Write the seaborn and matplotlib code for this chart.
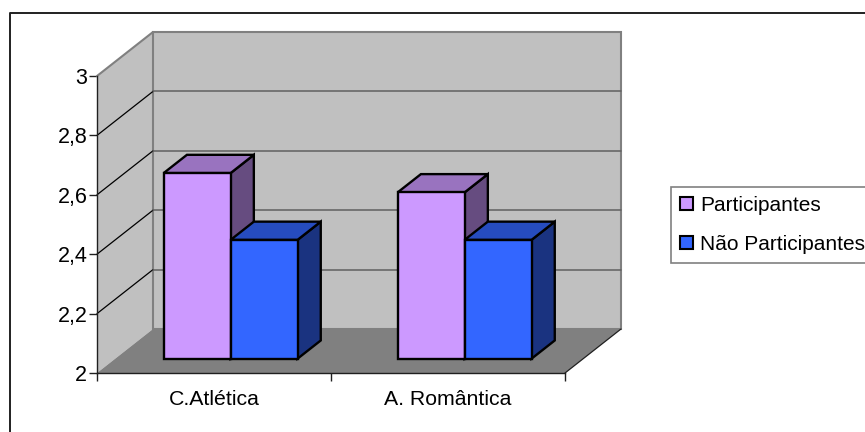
import matplotlib
matplotlib.use("Agg")
import matplotlib.pyplot as plt
from matplotlib.lines import Line2D
from matplotlib.patches import Polygon, Rectangle
from matplotlib.transforms import Affine2D, IdentityTransform
import numpy as np
import pandas as pd
import seaborn as sns

categories = ["C.Atlética", "A. Romântica"]
series_names = ["Participantes", "Não Participantes"]
participantes = [2.625, 2.56]
nao_participantes = [2.40, 2.40]
y_ticks = [2, 2.2, 2.4, 2.6, 2.8, 3]
y_tick_labels = ["2", "2,2", "2,4", "2,6", "2,8", "3"]

front_colors = ["#CC99FF", "#3366FF"]
top_colors = ["#9973BF", "#264CBF"]
side_colors = ["#664C80", "#1A3380"]

W, H = 865, 432
DEPTH = np.array([56.0, 44.0])   # pixel shift from the front plane to the back wall
BAR_FRONT, BAR_BACK = 0.325, 0.74
BAR_NUDGE = np.array([-1.6, 0.0])

sns.set_theme(style="white")
plt.rcParams["font.family"] = ["Liberation Sans", "DejaVu Sans"]

fig = plt.figure(figsize=(W / 100, H / 100), dpi=100, facecolor="white")
ax = fig.add_axes([97 / W, 1 - 373 / H, 468 / W, 297 / H], facecolor="none")

table = pd.DataFrame({
    "categoria": categories * 2,
    "serie": [series_names[0]] * 2 + [series_names[1]] * 2,
    "valor": participantes + nao_participantes,
})
sns.barplot(data=table, x="categoria", y="valor", hue="serie", palette=front_colors,
            width=0.572, gap=0, saturation=1, edgecolor="black", linewidth=1.7,
            ax=ax, legend=False, zorder=5)
ax.set_xlim(-0.5, 1.5)
ax.set_ylim(2, 3)
bars = list(ax.patches)


def project(x, y, d, nudge=0.0):
    """Data position plus depth fraction -> display pixels."""
    return ax.transData.transform((x, y)) + d * DEPTH + nudge


def face(points, nudge=0.0, **style):
    poly = Polygon([project(*p, nudge) for p in points], closed=True,
                   transform=IdentityTransform(), clip_on=False, **style)
    ax.add_artist(poly)
    return poly


def edge(a, b, **style):
    pa, pb = project(*a), project(*b)
    ax.add_artist(Line2D([pa[0], pb[0]], [pa[1], pb[1]], transform=IdentityTransform(),
                         clip_on=False, zorder=3, **style))


# Walls and floor
x0, x1 = ax.get_xlim()
face([(x0, 2, 0), (x0, 3, 0), (x0, 3, 1), (x0, 2, 1)], facecolor="#C0C0C0", edgecolor="none", zorder=1)
face([(x0, 2, 1), (x0, 3, 1), (x1, 3, 1), (x1, 2, 1)], facecolor="#C0C0C0", edgecolor="#808080", linewidth=1.5, zorder=1)
face([(x0, 2, 0), (x1, 2, 0), (x1, 2, 1), (x0, 2, 1)], facecolor="#808080", edgecolor="none", zorder=2)
edge((x0, 3, 0), (x0, 3, 1), color="#808080", lw=1.5)
edge((x1, 2, 0), (x1, 2, 1), color="#202020", lw=0.9)

# Gridlines along the side wall and across the back wall
for tick in y_ticks[1:-1]:
    edge((x0, tick, 0), (x0, tick, 1), color="black", lw=0.9)
    edge((x0, tick, 1), (x1, tick, 1), color="#606060", lw=1.1)

# Turn each flat bar into a box standing inside the depth of the floor
shift = Affine2D().translate(*(BAR_FRONT * DEPTH + BAR_NUDGE))
n_cat = len(categories)
for i, patch in enumerate(bars):
    series = i // n_cat
    left, right = patch.get_x(), patch.get_x() + patch.get_width()
    top = patch.get_height()
    patch.set_y(2)
    patch.set_height(top - 2)
    patch.set_transform(ax.transData + shift)
    patch.set_clip_on(False)
    z = 5 + series * 2
    patch.set_zorder(z + 1)
    style = dict(edgecolor="black", linewidth=1.7, joinstyle="miter", zorder=z, nudge=BAR_NUDGE)
    face([(right, 2, BAR_FRONT), (right, top, BAR_FRONT), (right, top, BAR_BACK), (right, 2, BAR_BACK)],
         facecolor=side_colors[series], **style)
    face([(left, top, BAR_FRONT), (right, top, BAR_FRONT), (right, top, BAR_BACK), (left, top, BAR_BACK)],
         facecolor=top_colors[series], **style)

# Axes
sns.despine(ax=ax, top=True, right=True)
for name in ("left", "bottom"):
    ax.spines[name].set_color("#202020")
    ax.spines[name].set_linewidth(1.0)
    ax.spines[name].set_zorder(4)
ax.set_yticks(y_ticks)
ax.set_yticklabels(y_tick_labels)
ax.set_xticks([-0.5, 0.5, 1.5])
ax.set_xticklabels([])
ax.set_xticks([0, 1], categories, minor=True)
ax.set_xlabel("")
ax.set_ylabel("")
ax.tick_params(axis="y", left=True, length=6, width=1, color="#202020", pad=1,
               labelsize=15.5, labelcolor="black")
ax.tick_params(axis="x", which="major", bottom=True, length=6, width=1, color="#202020")
ax.tick_params(axis="x", which="minor", bottom=False, length=0, pad=12.5,
               labelsize=15.3, labelcolor="black")

# Legend
handles = [Rectangle((0, 0), 1, 1, facecolor=c, edgecolor="black", linewidth=1.5) for c in front_colors]
leg = fig.legend(handles, series_names, loc="upper left",
                 bbox_to_anchor=(671 / W, 1 - 187 / H), bbox_transform=fig.transFigure,
                 fontsize=15.0, frameon=True, fancybox=False, edgecolor="#808080",
                 facecolor="white", framealpha=1, borderpad=0.42, labelspacing=0.96,
                 handlelength=0.62, handleheight=0.62, handletextpad=0.36, borderaxespad=0)
leg.get_frame().set_linewidth(1.2)
for label in leg.get_texts():
    label.set_color("black")

# Chart area border, left and top sides only
fig.add_artist(Line2D([9.5 / W, 9.5 / W, 1], [0, 1 - 13 / H, 1 - 13 / H],
                      transform=fig.transFigure, color="#202020", lw=1.4, zorder=0))

fig.savefig("out.png", dpi=100, facecolor="white")
